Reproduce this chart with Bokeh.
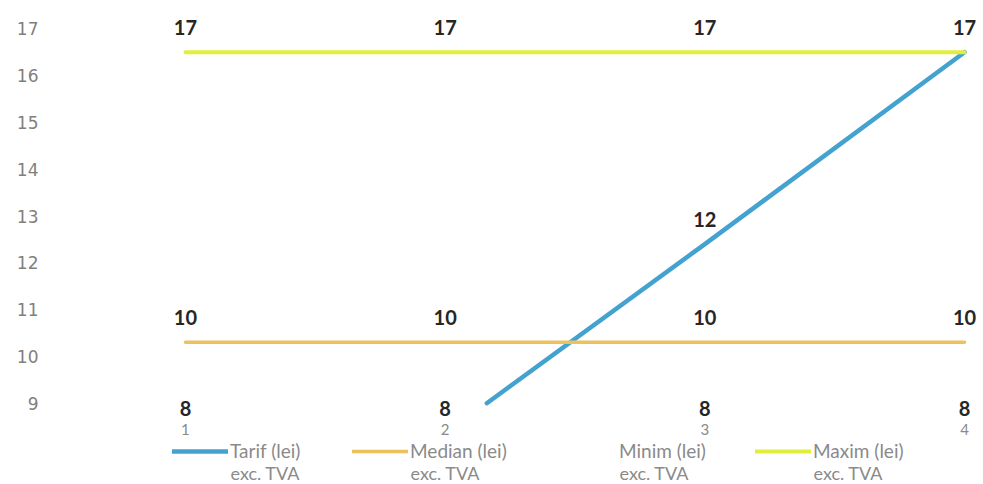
import math

from bokeh.plotting import figure
from bokeh.models import (ColumnDataSource, Range1d, FixedTicker, LabelSet,
                          Label, Legend, LegendItem)
from bokeh.core.properties import value
from bokeh.embed import file_html
from bokeh.resources import INLINE

# --- data -------------------------------------------------------------
categories = [1, 2, 3, 4]
tarif = [8.35, 8.35, 12.4, 16.5]
median = [10.3, 10.3, 10.3, 10.3]
minim = [8.35, 8.35, 8.35, 8.35]
maxim = [16.5, 16.5, 16.5, 16.5]
y_ticks = [9, 10, 11, 12, 13, 14, 15, 16, 17]
axis_min = 9
series_names = ["Tarif (lei)", "Median (lei)", "Minim (lei)", "Maxim (lei)"]
series_note = "exc. TVA"

SWATCH_W = 56
SWATCH_GAP = 2


def fmt(v):
    # whole-number labels, halves rounded up
    return str(int(math.floor(v + 0.5)))


def clip_at_floor(xs, ys, floor):
    """Keep only the parts of a polyline that lie at or above `floor`."""
    out_x, out_y = [], []
    for i in range(len(xs)):
        x, y = xs[i], ys[i]
        if i > 0:
            x0, y0 = xs[i - 1], ys[i - 1]
            if (y0 < floor) != (y < floor):
                t = (floor - y0) / (y - y0)
                out_x.append(x0 + t * (x - x0))
                out_y.append(floor)
                if y < floor:
                    out_x.append(float("nan"))
                    out_y.append(float("nan"))
        if y >= floor:
            out_x.append(x)
            out_y.append(y)
    return out_x, out_y


p = figure(width=983, height=484, output_backend="svg", toolbar_location=None,
           x_range=Range1d(0.461, 4.073), y_range=Range1d(7.263, 17.605),
           min_border_left=45, min_border_right=0, min_border_top=0,
           min_border_bottom=0)
p.outline_line_color = None
p.background_fill_color = "white"
p.border_fill_color = "white"
p.xgrid.visible = False
p.ygrid.visible = False
p.xaxis.visible = False

yax = p.yaxis[0]
yax.axis_line_color = None
yax.major_tick_line_color = None
yax.minor_tick_line_color = None
yax.ticker = FixedTicker(ticks=y_ticks)
yax.major_label_text_font = "DejaVu Sans"
yax.major_label_text_font_size = "17px"
yax.major_label_text_color = "#7f7f7f"
yax.major_label_standoff = 1

# --- series lines (the plot area starts at axis_min) -------------------
tx, ty = clip_at_floor(categories, tarif, axis_min)
r_tarif = p.line(tx, ty, line_color="#43a2cf", line_width=4.5,
                 line_cap="round")
r_median = p.line(categories, median, line_color="#ecc25e", line_width=3.5,
                  line_cap="round")
r_minim = p.line(categories, minim, line_color="white", line_alpha=0,
                 line_width=3.5)
r_maxim = p.line(categories, maxim, line_color="#e1ee3c", line_width=4,
                 line_cap="round")

# category labels under the plot area
p.text(x=categories, y=[axis_min] * len(categories),
       text=[str(c) for c in categories], y_offset=26,
       text_align="center", text_baseline="middle",
       text_font=value("Lato"), text_font_size="15px", text_color="#8a8a8a")

# --- data labels -------------------------------------------------------
others = [median, minim, maxim]
for vals, skip_shared in ((median, False), (minim, False), (maxim, False),
                          (tarif, True)):
    xs, ys, txt = [], [], []
    for i, (x, v) in enumerate(zip(categories, vals)):
        if skip_shared and any(abs(o[i] - v) < 0.01 for o in others):
            continue
        xs.append(x)
        ys.append(v)
        txt.append(fmt(v))
    src = ColumnDataSource(dict(x=xs, y=ys, t=txt))
    ls = LabelSet(x="x", y="y", text="t", source=src, y_offset=25,
                  text_align="center", text_baseline="middle",
                  text_font=value("Lato"), text_font_style=value("bold"),
                  text_font_size=value("20px"), text_color=value("#262626"))
    p.add_layout(ls)

# --- legend: one entry per series, the note wrapped under its name ------
legend_x = [127, 307, 516, 710]
for r, name, lx in zip([r_tarif, r_median, r_minim, r_maxim], series_names,
                       legend_x):
    leg = Legend(items=[LegendItem(label=name, renderers=[r])],
                 location=(lx, 22), padding=0, margin=0, spacing=0,
                 glyph_width=SWATCH_W, glyph_height=20,
                 label_standoff=SWATCH_GAP,
                 label_text_font="Lato", label_text_font_size="19px",
                 label_text_color="#8a8a8a", border_line_color=None,
                 background_fill_alpha=0)
    p.add_layout(leg, "center")
    p.add_layout(Label(x=lx + SWATCH_W + SWATCH_GAP, y=12, x_units="screen",
                       y_units="screen", text=series_note,
                       text_baseline="middle", text_font="Lato",
                       text_font_size="18px", text_color="#8a8a8a"))

open("out.html", "w").write(file_html(p, INLINE))
